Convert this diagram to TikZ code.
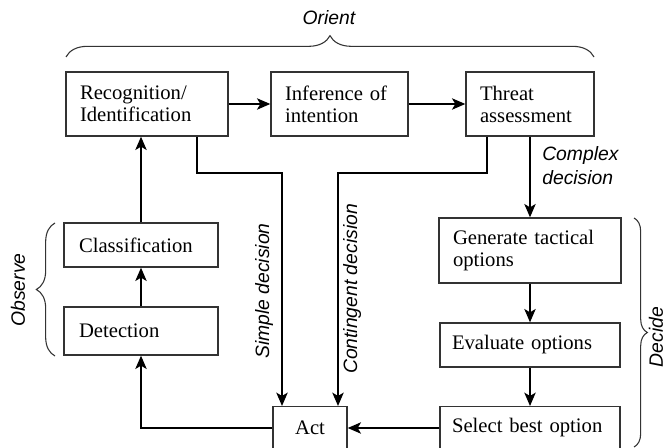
\documentclass[tikz,border=0pt]{standalone}
\usepackage{fontspec}
\setmainfont{Liberation Serif}
\setsansfont{Liberation Sans}
\usepackage{tikz}
\usetikzlibrary{arrows.meta}
\usetikzlibrary{decorations.pathreplacing}

\tikzset{
  blk/.style={draw=black!80, line width=1pt, align=left, inner xsep=10.5pt, inner ysep=0pt,
    font=\fontsize{15.5}{16.5}\selectfont},
  arr/.style={-{Stealth[length=10pt,width=8.5pt,inset=2.5pt]}, line width=1.4pt},
  brc/.style={decorate, decoration={brace,amplitude=#1}, line width=0.8pt, black!80},
  lbl/.style={font=\sffamily\itshape\fontsize{14.5}{18}\selectfont, inner sep=0pt}
}

\begin{document}
\begin{tikzpicture}[x=0.75pt,y=0.75pt,yscale=-1,xscale=1]
\useasboundingbox (0,0) rectangle (666,448);

% Orient row
\node[blk, text width=100.5pt, minimum height=48pt] (rec) at (147,104) {Recognition/\\Identification};
\node[blk, text width=81.75pt, minimum height=48pt] (inf) at (339.5,104) {Inference of\\intention};
\node[blk, text width=75pt, minimum height=48pt] (thr) at (530,104) {Threat\\assessment};
% Observe column
\node[blk, text width=93pt, inner xsep=11.25pt, minimum height=33pt] (cls) at (141,245) {Classification};
\node[blk, text width=93pt, inner xsep=11.25pt, minimum height=36pt] (det) at (141,331) {Detection};
% Decide column
\node[blk, text width=115.5pt, minimum height=48.75pt] (gen) at (530,250.5) {Generate tactical\\options};
\node[blk, text width=117pt, inner xsep=9pt, minimum height=33pt] (eva) at (530,345) {Evaluate options};
\node[blk, text width=117pt, inner xsep=9pt, minimum height=32pt] (sel) at (530,428) {Select best option};
% Act
\node[blk, align=center, minimum width=55.5pt, inner xsep=0pt, minimum height=32pt] (act) at (310,428) {Act};

% Arrows
\draw[arr] (rec) -- (inf);
\draw[arr] (inf) -- (thr);
\draw[arr] (det) -- (cls);
\draw[arr] (cls.north) -- (cls.north |- rec.south);
\draw[arr] (act.west) -| (det.south);
\draw[arr] (sel) -- (act);
\draw[arr] (thr) -- (gen);
\draw[arr] (gen) -- (eva);
\draw[arr] (eva) -- (sel);
\draw[arr] ([xshift=37.5pt]rec.south) -- ++(0,36) -| ([xshift=-21pt]act.north);
\draw[arr] ([xshift=-32.25pt]thr.south) -- ++(0,36) -| ([xshift=21pt]act.north);

% Braces
\draw[brc=16pt] (66,57) -- (594,57);
\draw[brc=14pt] (55,356) -- (55,223);
\draw[brc=10pt] (634,218) -- (634,447);

% Labels
\node[lbl] (orient) at (329,18) {Orient};
\node[lbl, rotate=90] (observe) at (18,290) {Observe};
\node[lbl, rotate=90] (decide) at (656,337) {Decide};
\node[lbl, rotate=90] (simple) at (264,291) {Simple decision};
\node[lbl, rotate=90] (conting) at (352,289) {Contingent decision};
\node[lbl, anchor=north west, align=left] (complex) at (542,146) {Complex\\decision};

\end{tikzpicture}
\end{document}
